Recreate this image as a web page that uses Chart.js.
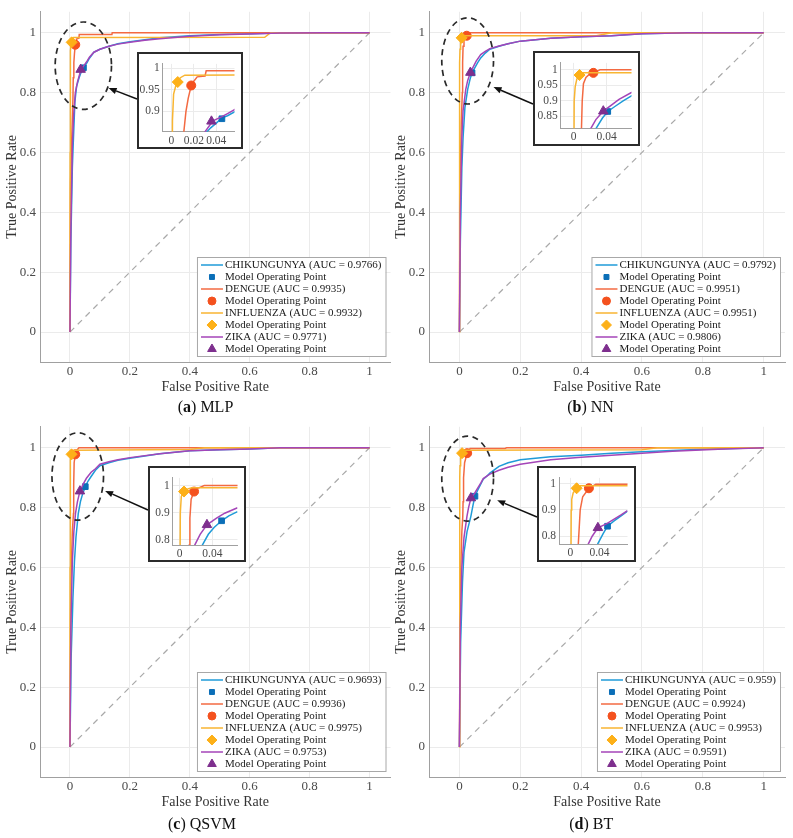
<!DOCTYPE html>
<html>
<head>
<meta charset="utf-8">
<script src="https://cdn.jsdelivr.net/npm/chart.js@4.4.1/dist/chart.umd.min.js"></script>
<style>
  body { margin: 0; background: #fff; }
  #wrap { position: relative; width: 793px; height: 838px; font-family: "Liberation Serif", "Times New Roman", serif; }
  canvas { position: absolute; }
  .inset { position: absolute; border: 2px solid #2b2b2b; background: #fff; }
  .inset canvas { left: 0; top: 0; }
  .cap { position: absolute; font-size: 16px; line-height: 18px; color: #111; transform: translateX(-50%); white-space: nowrap; }
</style>
</head>
<body>
<div id="wrap"></div>
<script>
// classes, colours
const classNames = ['CHIKUNGUNYA', 'DENGUE', 'INFLUENZA', 'ZIKA'];
const lineColors = ['#1f9bd8', '#f36a42', '#f8b532', '#a445b8'];
const markerColors = ['#0b6fb8', '#f4511e', '#fdb018', '#7e2f8e'];
const markerStyles = ['rect', 'circle', 'rectRot', 'triangle'];
const markerSizes = [4, 4.5, 5.5, 5.5];
const mainTicks = [0, 0.2, 0.4, 0.6, 0.8, 1];

// (a) MLP
const mlpAuc = [0.9766, 0.9935, 0.9932, 0.9771];
const mlpChikFpr = [0, 0.003, 0.008, 0.011, 0.0165, 0.022, 0.03, 0.035, 0.04, 0.045, 0.05, 0.057, 0.065, 0.08, 0.1, 0.13, 0.16, 0.2, 0.25, 0.3, 0.4, 0.5, 0.6, 0.7, 0.85, 1];
const mlpChikTpr = [0, 0.3, 0.55, 0.63, 0.77, 0.82, 0.848, 0.862, 0.873, 0.885, 0.89, 0.9, 0.915, 0.935, 0.945, 0.955, 0.963, 0.97, 0.977, 0.983, 0.99, 0.994, 0.997, 0.999, 1, 1];
const mlpDengFpr = [0, 0.002, 0.006, 0.01, 0.011, 0.013, 0.015, 0.0177, 0.02, 0.023, 0.03, 0.031, 0.14, 0.141, 1];
const mlpDengTpr = [0, 0.5, 0.65, 0.78, 0.85, 0.9, 0.93, 0.96, 0.97, 0.98, 0.982, 0.994, 0.994, 1, 1];
const mlpInflFpr = [0, 0.0005, 0.001, 0.002, 0.004, 0.0057, 0.008, 0.012, 0.65, 0.67, 1];
const mlpInflTpr = [0, 0.6, 0.88, 0.94, 0.96, 0.968, 0.978, 0.984, 0.985, 1, 1];
const mlpZikaFpr = [0, 0.003, 0.008, 0.012, 0.018, 0.025, 0.03, 0.037, 0.045, 0.05, 0.057, 0.065, 0.08, 0.1, 0.13, 0.16, 0.2, 0.25, 0.3, 0.4, 0.5, 0.6, 0.7, 0.85, 1];
const mlpZikaTpr = [0, 0.35, 0.62, 0.72, 0.8, 0.835, 0.853, 0.878, 0.888, 0.895, 0.905, 0.918, 0.935, 0.945, 0.955, 0.962, 0.968, 0.975, 0.98, 0.988, 0.993, 0.996, 0.999, 1, 1];
const mlpOpFpr = [0.045, 0.0177, 0.0057, 0.0357];
const mlpOpTpr = [0.883, 0.96, 0.968, 0.877];

// (b) NN
const nnAuc = [0.9792, 0.9951, 0.9951, 0.9806];
const nnChikFpr = [0, 0.003, 0.008, 0.012, 0.018, 0.0273, 0.035, 0.0414, 0.05, 0.06, 0.07, 0.085, 0.1, 0.13, 0.16, 0.2, 0.3, 0.4, 0.5, 0.6, 0.75, 1];
const nnChikTpr = [0, 0.3, 0.55, 0.65, 0.75, 0.812, 0.845, 0.866, 0.882, 0.9, 0.916, 0.932, 0.945, 0.955, 0.963, 0.972, 0.982, 0.987, 0.99, 0.997, 1, 1];
const nnDengFpr = [0, 0.002, 0.006, 0.0095, 0.0105, 0.012, 0.015, 0.019, 0.024, 0.028, 0.032, 1];
const nnDengTpr = [0, 0.5, 0.7, 0.8, 0.9, 0.955, 0.975, 0.985, 0.99, 0.995, 1, 1];
const nnInflFpr = [0, 0.0003, 0.0008, 0.002, 0.004, 0.0073, 0.012, 0.45, 0.5, 1];
const nnInflTpr = [0, 0.6, 0.9, 0.945, 0.97, 0.983, 0.99, 0.99, 1, 1];
const nnZikaFpr = [0, 0.003, 0.008, 0.012, 0.021, 0.027, 0.036, 0.045, 0.055, 0.07, 0.085, 0.1, 0.13, 0.16, 0.2, 0.3, 0.4, 0.5, 0.6, 0.75, 1];
const nnZikaTpr = [0, 0.4, 0.65, 0.74, 0.812, 0.84, 0.867, 0.885, 0.905, 0.927, 0.938, 0.947, 0.956, 0.963, 0.972, 0.982, 0.987, 0.99, 0.997, 1, 1];
const nnOpFpr = [0.0414, 0.024, 0.0073, 0.036];
const nnOpTpr = [0.866, 0.99, 0.983, 0.867];

// (c) QSVM
const qsvmAuc = [0.9693, 0.9936, 0.9975, 0.9753];
const qsvmChikFpr = [0, 0.004, 0.01, 0.015, 0.02, 0.0277, 0.035, 0.042, 0.0512, 0.06, 0.0706, 0.085, 0.1, 0.13, 0.16, 0.2, 0.3, 0.4, 0.5, 0.6, 0.7, 1];
const qsvmChikTpr = [0, 0.3, 0.5, 0.62, 0.7, 0.78, 0.82, 0.845, 0.87, 0.888, 0.904, 0.925, 0.94, 0.95, 0.958, 0.965, 0.98, 0.99, 0.993, 0.996, 1, 1];
const qsvmDengFpr = [0, 0.003, 0.008, 0.0117, 0.0125, 0.014, 0.0176, 0.022, 0.03, 1];
const qsvmDengTpr = [0, 0.55, 0.72, 0.78, 0.88, 0.95, 0.978, 0.99, 1, 1];
const qsvmInflFpr = [0, 0.0003, 0.0008, 0.002, 0.0053, 0.01, 0.015, 0.4, 0.45, 1];
const qsvmInflTpr = [0, 0.6, 0.9, 0.96, 0.978, 0.988, 0.992, 0.994, 1, 1];
const qsvmZikaFpr = [0, 0.003, 0.008, 0.013, 0.0184, 0.025, 0.0333, 0.045, 0.055, 0.0706, 0.085, 0.1, 0.13, 0.16, 0.2, 0.3, 0.4, 0.5, 0.6, 0.7, 1];
const qsvmZikaTpr = [0, 0.4, 0.62, 0.72, 0.78, 0.82, 0.855, 0.88, 0.898, 0.918, 0.93, 0.945, 0.953, 0.96, 0.967, 0.98, 0.99, 0.993, 0.996, 1, 1];
const qsvmOpFpr = [0.0512, 0.0176, 0.0053, 0.0333];
const qsvmOpTpr = [0.87, 0.978, 0.978, 0.855];

// (d) BT
const btAuc = [0.959, 0.9924, 0.9953, 0.9591];
const btChikFpr = [0, 0.004, 0.01, 0.015, 0.025, 0.0374, 0.045, 0.051, 0.06, 0.07, 0.0783, 0.09, 0.1, 0.13, 0.16, 0.2, 0.3, 0.4, 0.5, 0.6, 0.8, 1];
const btChikTpr = [0, 0.35, 0.55, 0.65, 0.72, 0.77, 0.81, 0.838, 0.858, 0.878, 0.895, 0.905, 0.915, 0.938, 0.95, 0.96, 0.97, 0.975, 0.982, 0.987, 0.995, 1];
const btDengFpr = [0, 0.003, 0.008, 0.011, 0.012, 0.0136, 0.017, 0.0255, 0.035, 0.15, 0.155, 1];
const btDengTpr = [0, 0.55, 0.72, 0.77, 0.82, 0.9, 0.95, 0.982, 0.9975, 0.9975, 1, 1];
const btInflFpr = [0, 0.0008, 0.0013, 0.002, 0.004, 0.0087, 0.014, 0.6, 0.65, 1];
const btInflTpr = [0, 0.6, 0.9, 0.94, 0.965, 0.982, 0.9915, 0.993, 1, 1];
const btZikaFpr = [0, 0.003, 0.008, 0.015, 0.0246, 0.03, 0.0378, 0.05, 0.06, 0.07, 0.0783, 0.09, 0.1, 0.13, 0.16, 0.2, 0.3, 0.4, 0.5, 0.7, 0.85, 1];
const btZikaTpr = [0, 0.4, 0.6, 0.7, 0.77, 0.8, 0.832, 0.848, 0.865, 0.882, 0.897, 0.905, 0.912, 0.925, 0.935, 0.945, 0.96, 0.968, 0.975, 0.988, 0.995, 1];
const btOpFpr = [0.051, 0.0255, 0.0087, 0.0378];
const btOpTpr = [0.838, 0.982, 0.982, 0.832];

Chart.defaults.font.family = '"Liberation Serif", "Times New Roman", serif';

// layout of the four panels (page pixels) and their zoom insets
const panels = [
  { letter: 'a', name: 'MLP', left: 0, top: 0, w: 397, padR: 2.5, auc: mlpAuc,
    curves: [[mlpChikFpr, mlpChikTpr], [mlpDengFpr, mlpDengTpr], [mlpInflFpr, mlpInflTpr], [mlpZikaFpr, mlpZikaTpr]],
    opFpr: mlpOpFpr, opTpr: mlpOpTpr,
    ell: { cx: 0.0446, cy: 0.89, rx: 0.094, ry: 0.146, t: 30, g: 1, frac: 0.485 },
    inset: { left: 137, top: 52, w: 102, h: 93, areaL: 23.7, padR: 3.7, padT: 2, axisH: 15.3,
      xMin: -0.0077, xMax: 0.0562, yMin: 0.853, yMax: 1.01, xTicks: [0, 0.02, 0.04], yTicks: [0.9, 0.95, 1] },
    cap: [205.5, 398] },
  { letter: 'b', name: 'NN', left: 389, top: 0, w: 404, padR: 8, auc: nnAuc,
    curves: [[nnChikFpr, nnChikTpr], [nnDengFpr, nnDengTpr], [nnInflFpr, nnInflTpr], [nnZikaFpr, nnZikaTpr]],
    opFpr: nnOpFpr, opTpr: nnOpTpr,
    ell: { cx: 0.027, cy: 0.906, rx: 0.085, ry: 0.144, t: 33, g: 5, frac: 0.558 },
    inset: { left: 533, top: 51, w: 103, h: 91, areaL: 25.7, padR: 2, padT: 1.5, axisH: 15.7,
      xMin: -0.0155, xMax: 0.0701, yMin: 0.812, yMax: 1.022, xTicks: [0, 0.04], yTicks: [0.85, 0.9, 0.95, 1] },
    cap: [590.5, 398] },
  { letter: 'c', name: 'QSVM', left: 0, top: 415, w: 397, padR: 2.5, auc: qsvmAuc,
    curves: [[qsvmChikFpr, qsvmChikTpr], [qsvmDengFpr, qsvmDengTpr], [qsvmInflFpr, qsvmInflTpr], [qsvmZikaFpr, qsvmZikaTpr]],
    opFpr: qsvmOpFpr, opTpr: qsvmOpTpr,
    ell: { cx: 0.026, cy: 0.904, rx: 0.086, ry: 0.146, t: 18, g: 3, frac: 0.458 },
    inset: { left: 148, top: 466, w: 94, h: 92, areaL: 22.7, padR: 0.7, padT: 4.7, axisH: 15,
      xMin: -0.0085, xMax: 0.0706, yMin: 0.7804, yMax: 1.0285, xTicks: [0, 0.04], yTicks: [0.8, 0.9, 1] },
    cap: [202, 815] },
  { letter: 'd', name: 'BT', left: 389, top: 415, w: 404, padR: 8, auc: btAuc,
    curves: [[btChikFpr, btChikTpr], [btDengFpr, btDengTpr], [btInflFpr, btInflTpr], [btZikaFpr, btZikaTpr]],
    opFpr: btOpFpr, opTpr: btOpTpr,
    ell: { cx: 0.027, cy: 0.897, rx: 0.085, ry: 0.142, t: 26, g: 7, frac: 0.531 },
    inset: { left: 537, top: 466, w: 95, h: 92, areaL: 20, padR: 4, padT: 5.3, axisH: 16,
      xMin: -0.0154, xMax: 0.0783, yMin: 0.7706, yMax: 1.0213, xTicks: [0, 0.04], yTicks: [0.8, 0.9, 1] },
    cap: [591.3, 815] }
];

function pts(xs, ys) { return xs.map((v, i) => ({ x: v, y: ys[i] })); }

function makeDatasets(p, withDiag) {
  const ds = [];
  if (withDiag) {
    ds.push({ data: pts([0, 1], [0, 1]), showLine: true, borderColor: '#a9a9a9', borderWidth: 1.2, borderDash: [6, 5], pointRadius: 0 });
  }
  p.curves.forEach((c, i) => {
    ds.push({ data: pts(c[0], c[1]), showLine: true, borderColor: lineColors[i], borderWidth: 1.5, pointRadius: 0 });
    ds.push({ data: [{ x: p.opFpr[i], y: p.opTpr[i] }], showLine: false, pointStyle: markerStyles[i],
      pointRadius: markerSizes[i], backgroundColor: markerColors[i], borderColor: markerColors[i], borderWidth: 1 });
  });
  ds.forEach((d, k) => { d.order = ds.length - k; });
  return ds;
}

function axis(o) {
  return {
    type: 'linear', min: o.min, max: o.max,
    afterBuildTicks: s => { s.ticks = o.ticks.map(v => ({ value: v })); },
    afterFit: s => { if (o.width != null) s.width = o.width; if (o.height != null) s.height = o.height; },
    grid: { color: '#ebebeb', drawTicks: false },
    border: { color: '#a0a0a0', width: 1 },
    ticks: { autoSkip: false, maxRotation: 0, padding: o.pad, color: '#4a4a4a', font: { size: o.fs }, callback: v => String(v) },
    title: o.title ? { display: true, text: o.title, color: '#333', font: { size: 14 }, padding: o.tpad } : { display: false }
  };
}

// legend drawn inside the lower right corner of the plot
const rocLegend = {
  id: 'rocLegend',
  afterDraw(chart) {
    const o = chart.options.plugins.rocLegend;
    const { ctx, chartArea } = chart;
    ctx.save();
    ctx.font = '11px "Liberation Serif", serif';
    const rows = [];
    o.auc.forEach((a, i) => {
      rows.push({ i, line: true, text: classNames[i] + ' (AUC = ' + a + ')' });
      rows.push({ i, line: false, text: 'Model Operating Point' });
    });
    const tw = Math.max(...rows.map(r => ctx.measureText(r.text).width));
    const w = tw + 32, h = 99;
    const right = chartArea.right - 5, bottom = chartArea.bottom - 6;
    const left = right - w, top = bottom - h;
    ctx.fillStyle = '#fff';
    ctx.fillRect(left, top, w, h);
    ctx.strokeStyle = '#a8a8a8';
    ctx.lineWidth = 1;
    ctx.strokeRect(left + 0.5, top + 0.5, w, h);
    rows.forEach((r, k) => {
      const y = top + 8 + k * 12;
      if (r.line) {
        ctx.strokeStyle = lineColors[r.i];
        ctx.lineWidth = 1.5;
        ctx.beginPath(); ctx.moveTo(left + 4, y); ctx.lineTo(left + 26, y); ctx.stroke();
      } else {
        ctx.fillStyle = markerColors[r.i];
        ctx.strokeStyle = markerColors[r.i];
        ctx.lineWidth = 1;
        Chart.helpers.drawPoint(ctx, { pointStyle: markerStyles[r.i], radius: markerSizes[r.i] - 0.5, rotation: 0, borderWidth: 1 }, left + 15, y);
      }
      ctx.fillStyle = '#1a1a1a';
      ctx.textBaseline = 'middle';
      ctx.textAlign = 'left';
      ctx.fillText(r.text, left + 28, y + 0.5);
    });
    ctx.restore();
  }
};

// dashed ellipse round the zoomed region and arrow from the inset
const zoomMark = {
  id: 'zoomMark',
  afterDraw(chart) {
    const o = chart.options.plugins.zoomMark;
    const { ctx, scales: { x, y } } = chart;
    const cx = x.getPixelForValue(o.cx), cy = y.getPixelForValue(o.cy);
    const rx = x.getPixelForValue(o.cx + o.rx) - cx;
    const ry = cy - y.getPixelForValue(o.cy + o.ry);
    ctx.save();
    ctx.strokeStyle = '#2a2a2a';
    ctx.lineWidth = 1.7;
    ctx.setLineDash([6, 4.5]);
    ctx.beginPath(); ctx.ellipse(cx, cy, rx, ry, 0, 0, Math.PI * 2); ctx.stroke();
    const t = o.t * Math.PI / 180;
    const ex = cx + (rx + o.g) * Math.cos(t), ey = cy + (ry + o.g) * Math.sin(t);
    const sx = o.sx, sy = o.sy;
    const ang = Math.atan2(ey - sy, ex - sx);
    const hl = 8, hw = 3.2;
    const bx = ex - hl * Math.cos(ang), by = ey - hl * Math.sin(ang);
    ctx.setLineDash([]);
    ctx.strokeStyle = '#111';
    ctx.lineWidth = 1.5;
    ctx.beginPath(); ctx.moveTo(sx, sy); ctx.lineTo(bx, by); ctx.stroke();
    ctx.fillStyle = '#111';
    ctx.beginPath();
    ctx.moveTo(ex, ey);
    ctx.lineTo(bx + hw * Math.sin(ang), by - hw * Math.cos(ang));
    ctx.lineTo(bx - hw * Math.sin(ang), by + hw * Math.cos(ang));
    ctx.closePath(); ctx.fill();
    ctx.restore();
  }
};

const wrap = document.getElementById('wrap');

panels.forEach(p => {
  // main chart
  const cv = document.createElement('canvas');
  cv.width = p.w; cv.height = 400;
  cv.style.left = p.left + 'px'; cv.style.top = p.top + 'px';
  cv.style.width = p.w + 'px'; cv.style.height = '400px';
  wrap.appendChild(cv);

  const ins = p.inset;
  const ell = Object.assign({}, p.ell, {
    sx: ins.left - p.left,
    sy: ins.top + p.ell.frac * (ins.h + 4) - p.top
  });

  new Chart(cv, {
    type: 'scatter',
    data: { datasets: makeDatasets(p, true) },
    options: {
      responsive: false, animation: false, devicePixelRatio: 1, events: [],
      layout: { padding: { left: 0, top: 7, right: p.padR, bottom: 0 } },
      plugins: { legend: { display: false }, tooltip: { enabled: false }, rocLegend: { auc: p.auc }, zoomMark: ell },
      scales: {
        x: axis({ min: -0.1, max: 1.07, ticks: mainTicks, height: 38, pad: 2, fs: 13, title: 'False Positive Rate', tpad: { top: 0, bottom: 4.6 } }),
        y: axis({ min: -0.1, max: 1.07, ticks: mainTicks, width: 40, pad: 4, fs: 13, title: 'True Positive Rate', tpad: { top: 4.3, bottom: 0 } })
      }
    },
    plugins: [zoomMark, rocLegend]
  });

  // inset chart
  const box = document.createElement('div');
  box.className = 'inset';
  box.style.left = ins.left + 'px'; box.style.top = ins.top + 'px';
  box.style.width = ins.w + 'px'; box.style.height = ins.h + 'px';
  const ic = document.createElement('canvas');
  ic.width = ins.w; ic.height = ins.h;
  ic.style.width = ins.w + 'px'; ic.style.height = ins.h + 'px';
  box.appendChild(ic);
  wrap.appendChild(box);

  new Chart(ic, {
    type: 'scatter',
    data: { datasets: makeDatasets(p, false) },
    options: {
      responsive: false, animation: false, devicePixelRatio: 1, events: [],
      layout: { padding: { left: 0, top: ins.padT, right: ins.padR, bottom: 0 } },
      plugins: { legend: { display: false }, tooltip: { enabled: false } },
      scales: {
        x: axis({ min: ins.xMin, max: ins.xMax, ticks: ins.xTicks, height: ins.axisH, pad: 2, fs: 11.5 }),
        y: axis({ min: ins.yMin, max: ins.yMax, ticks: ins.yTicks, width: ins.areaL, pad: 3, fs: 11.5 })
      }
    }
  });

  // caption
  const cap = document.createElement('div');
  cap.className = 'cap';
  cap.style.left = p.cap[0] + 'px'; cap.style.top = p.cap[1] + 'px';
  cap.innerHTML = '(<b>' + p.letter + '</b>) ' + p.name;
  wrap.appendChild(cap);
});
</script>
</body>
</html>
